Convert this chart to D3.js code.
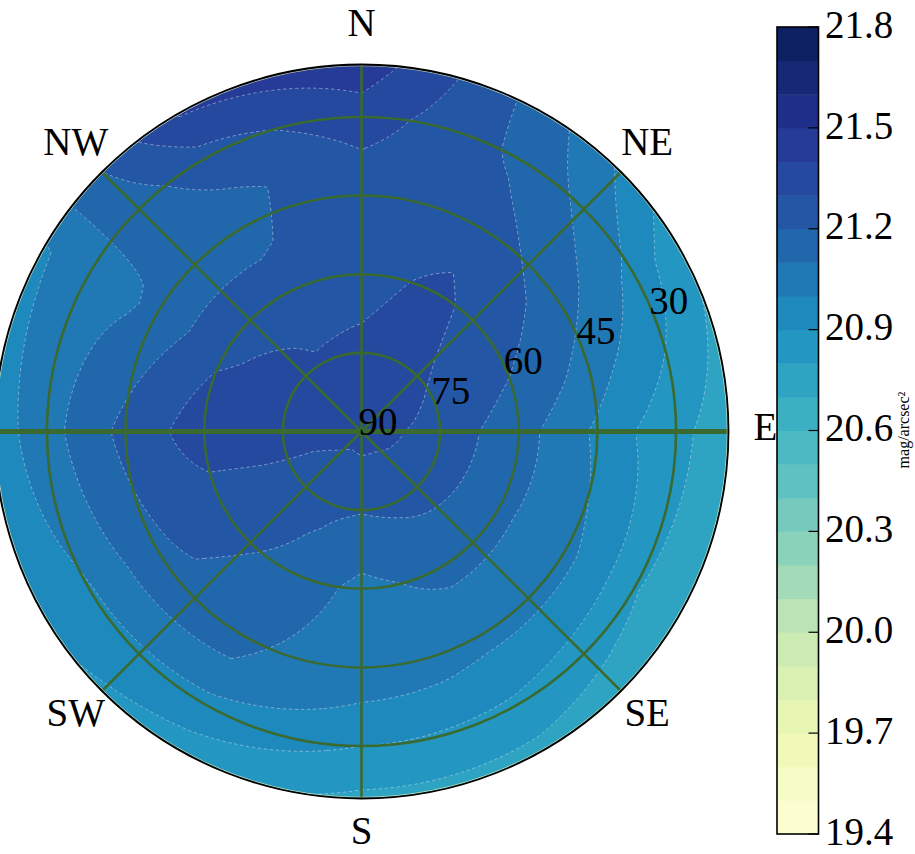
<!DOCTYPE html>
<html><head><meta charset="utf-8">
<script src="https://cdn.jsdelivr.net/npm/d3@7"></script>
<style>body{margin:0;background:#fff}svg{display:block}</style>
</head><body>
<svg id="chart" width="915" height="854"></svg>
<script>
// ---------- data ----------
const azimuths = [0, 30, 60, 90, 120, 150, 180, 210, 240, 270, 300, 330];   // degrees, N=0, clockwise
const zeniths  = [0, 10, 20, 30, 40, 50, 60, 70];                            // degrees from zenith
// sky brightness (mag/arcsec^2) along each azimuth, one value per zenith distance
const az000 = [21.35, 21.33, 21.302, 21.27, 21.25, 21.27, 21.35, 21.46];
const az030 = [21.35, 21.34, 21.33, 21.32, 21.28, 21.23, 21.18, 21.15];
const az060 = [21.35, 21.32, 21.27, 21.23, 21.17, 21.08, 20.97, 20.82];
const az090 = [21.35, 21.29, 21.22, 21.14, 21.04, 20.92, 20.83, 20.74];
const az120 = [21.35, 21.27, 21.21, 21.12, 21.06, 20.98, 20.81, 20.71];
const az150 = [21.35, 21.24, 21.195, 21.13, 21.06, 20.99, 20.88, 20.77];
const az180 = [21.35, 21.24, 21.17, 21.07, 21.045, 21.02, 20.90, 20.78];
const az210 = [21.35, 21.22, 21.21, 21.18, 21.14, 21.10, 20.97, 20.85];
const az240 = [21.35, 21.28, 21.27, 21.24, 21.22, 21.12, 20.99, 20.92];
const az270 = [21.35, 21.36, 21.35, 21.36, 21.27, 21.18, 21.06, 20.95];
const az300 = [21.35, 21.35, 21.33, 21.28, 21.18, 21.09, 21.05, 20.99];
const az330 = [21.35, 21.33, 21.29, 21.24, 21.19, 21.17, 21.26, 21.41];

const ringAltitudes = [90, 75, 60, 45, 30];
const compassLabels = ["N", "NE", "E", "SE", "S", "SW", "NW"];
const compassAngles = [0, 45, 90, 135, 180, 225, 315];
const spokeAngles = [0, 45, 90, 135, 180, 225, 270, 315];
const cbTicks = [19.4, 19.7, 20.0, 20.3, 20.6, 20.9, 21.2, 21.5, 21.8];
const cbLabel = "mag/arcsec²";
const levelMin = 19.4, levelMax = 21.8, levelStep = 0.1;
const ylgnbu = ["#ffffd9","#edf8b1","#c7e9b4","#7fcdbb","#41b6c4","#1d91c0","#225ea8","#253494","#081d58"];

// ---------- layout ----------
const cx = 361.5, cy = 431.5, R = 367;
const font = "'Liberation Serif','DejaVu Serif',serif";
const fs = 39;
const svg = d3.select("#chart");

const columns = [az000, az030, az060, az090, az120, az150, az180, az210, az240, az270, az300, az330];
const rScale = d3.scaleLinear().domain([0, d3.max(zeniths)]).range([0, R]);
const aScale = d3.scaleLinear().domain([0, 360]).range([0, 2 * Math.PI]);
function polar(az, zen) {
  const a = aScale(az), r = rScale(zen);
  return [cx + r * Math.sin(a), cy - r * Math.cos(a)];
}

const levels = d3.range(0, Math.round((levelMax - levelMin) / levelStep) + 1).map(i => +(levelMin + i * levelStep).toFixed(1));
const nBands = levels.length - 1;
const cmap = d3.piecewise(d3.interpolateRgb, ylgnbu);
const bandColor = k => cmap((k + 0.5) / nBands);

// bilinear interpolation on the (azimuth, zenith) grid
const azStep = azimuths[1] - azimuths[0], zStep = zeniths[1] - zeniths[0];
function sky(az, zen) {
  const n = azimuths.length;
  const fa = az / azStep, ia = Math.floor(fa), ta = fa - ia;
  const i0 = ((ia % n) + n) % n, i1 = (i0 + 1) % n;
  const fz = Math.min(zen, zeniths[zeniths.length - 1]) / zStep;
  const j0 = Math.min(Math.floor(fz), zeniths.length - 2);
  const tz = fz - j0, j1 = j0 + 1;
  const v00 = columns[i0][j0], v01 = columns[i0][j1], v10 = columns[i1][j0], v11 = columns[i1][j1];
  return (v00 * (1 - tz) + v01 * tz) * (1 - ta) + (v10 * (1 - tz) + v11 * tz) * ta;
}

// raster for d3.contours
const cell = 2, pad = 8;
const x0 = cx - R - pad, y0 = cy - R - pad;
const nx = Math.ceil((2 * R + 2 * pad) / cell) + 1, ny = nx;
const values = new Float64Array(nx * ny);
for (let j = 0; j < ny; j++) {
  for (let i = 0; i < nx; i++) {
    const dx = x0 + i * cell - cx, dy = y0 + j * cell - cy;
    const r = Math.hypot(dx, dy);
    let az = Math.atan2(dx, -dy) * 180 / Math.PI; if (az < 0) az += 360;
    values[j * nx + i] = sky(az, rScale.invert(r));
  }
}
const contours = d3.contours().size([nx, ny]).thresholds(levels.slice(0, -1))(values);
const proj = d3.geoTransform({ point(x, y) { this.stream.point(x0 + (x - 0.5) * cell, y0 + (y - 0.5) * cell); } });
const path = d3.geoPath(proj);

const defs = svg.append("defs");
defs.append("clipPath").attr("id", "clipCircle").append("circle").attr("cx", cx).attr("cy", cy).attr("r", R);

svg.append("circle").attr("cx", cx).attr("cy", cy).attr("r", R).attr("fill", "#f4f7c4");
const gFill = svg.append("g").attr("clip-path", "url(#clipCircle)");
gFill.selectAll("path.band").data(contours).join("path")
  .attr("class", "band")
  .attr("d", path)
  .attr("fill", (d, k) => bandColor(k))
  .attr("stroke", (d, k) => bandColor(k)).attr("stroke-width", 0.6);
gFill.selectAll("path.line").data(contours.slice(1)).join("path")
  .attr("class", "line")
  .attr("d", path)
  .attr("fill", "none")
  .attr("stroke", "#dfe8f0").attr("stroke-opacity", 0.55)
  .attr("stroke-width", 0.9).attr("stroke-dasharray", "3.5,2.5");

// grid
const green = "#3a6a30";
const gGrid = svg.append("g");
ringAltitudes.slice(1).forEach(alt => {
  gGrid.append("circle").attr("cx", cx).attr("cy", cy).attr("r", rScale(90 - alt))
    .attr("fill", "none").attr("stroke", green).attr("stroke-width", 2.6);
});
spokeAngles.forEach(a => {
  const [x2, y2] = polar(a, d3.max(zeniths));
  gGrid.append("line").attr("x1", cx).attr("y1", cy).attr("x2", x2).attr("y2", y2)
    .attr("stroke", green).attr("stroke-width", (a === 90 || a === 270) ? 5 : 2.6);
});

svg.append("circle").attr("cx", cx).attr("cy", cy).attr("r", R - 1.2)
  .attr("fill", "none").attr("stroke", "#eef2b0").attr("stroke-width", 1).attr("stroke-opacity", 0.7);
svg.append("circle").attr("cx", cx).attr("cy", cy).attr("r", R)
  .attr("fill", "none").attr("stroke", "#000").attr("stroke-width", 1.8);

// radial labels (altitude) along 67.5 deg azimuth
ringAltitudes.forEach(alt => {
  const [x, y] = polar(67.5, 90 - alt);
  svg.append("text").attr("x", x - 3).attr("y", y + 3)
    .attr("font-family", font).attr("font-size", fs).attr("fill", "#000").text(String(alt));
});

// compass labels
compassLabels.forEach((lab, i) => {
  const a = aScale(compassAngles[i]), r = 404;
  const x = cx + r * Math.sin(a), y = cy - r * Math.cos(a) - 4;
  svg.append("text").attr("x", x).attr("y", y + 0.662 * fs / 2)
    .attr("text-anchor", "middle").attr("font-family", font).attr("font-size", fs).attr("fill", "#000").text(lab);
});

// colorbar
const cbX = 777, cbW = 41.5, cbTop = 27, cbBot = 834;
const cbScale = d3.scaleLinear().domain([levelMin, levelMax]).range([cbBot, cbTop]);
const gcb = svg.append("g");
gcb.selectAll("rect").data(d3.range(nBands)).join("rect")
  .attr("x", cbX).attr("width", cbW)
  .attr("y", k => cbScale(levels[k + 1]))
  .attr("height", k => cbScale(levels[k]) - cbScale(levels[k + 1]) + 0.5)
  .attr("fill", k => bandColor(k));
gcb.append("rect").attr("x", cbX).attr("y", cbTop).attr("width", cbW).attr("height", cbBot - cbTop)
  .attr("fill", "none").attr("stroke", "#000").attr("stroke-width", 1.6);
cbTicks.forEach(t => {
  const y = cbScale(t);
  gcb.append("line").attr("x1", cbX + cbW - 10).attr("x2", cbX + cbW).attr("y1", y).attr("y2", y)
    .attr("stroke", "#000").attr("stroke-width", 1.2);
  gcb.append("text").attr("x", 825).attr("y", y + 0.676 * fs / 2 - 2.5)
    .attr("font-family", font).attr("font-size", fs).attr("fill", "#000").text(t.toFixed(1));
});
gcb.append("text").attr("transform", "translate(909,430) rotate(-90)")
  .attr("text-anchor", "middle").attr("font-family", font).attr("font-size", 16).attr("fill", "#000")
  .text(cbLabel);
</script>
</body></html>
